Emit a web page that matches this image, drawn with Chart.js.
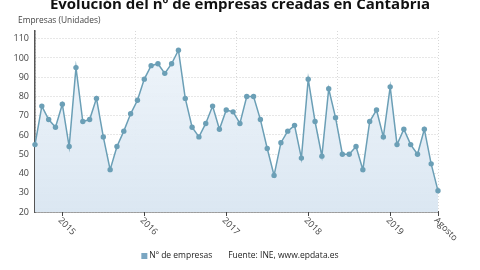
<!DOCTYPE html>
<html>
<head>
<meta charset="utf-8">
<script src="https://cdn.jsdelivr.net/npm/chart.js@4.4.1/dist/chart.umd.min.js"></script>
<style>
  html, body { margin: 0; padding: 0; background: #fff; }
</style>
</head>
<body>
<canvas id="myChart" width="480" height="270"></canvas>
<script>
const title = 'Evolución del nº de empresas creadas en Cantabria';
const yTitle = 'Empresas (Unidades)';
const seriesLabel = 'Nº de empresas';
const source = 'Fuente: INE, www.epdata.es';

// Sep 2014 .. Aug 2019
const months = [
  '2014-09','2014-10','2014-11','2014-12',
  '2015-01','2015-02','2015-03','2015-04','2015-05','2015-06','2015-07','2015-08','2015-09','2015-10','2015-11','2015-12',
  '2016-01','2016-02','2016-03','2016-04','2016-05','2016-06','2016-07','2016-08','2016-09','2016-10','2016-11','2016-12',
  '2017-01','2017-02','2017-03','2017-04','2017-05','2017-06','2017-07','2017-08','2017-09','2017-10','2017-11','2017-12',
  '2018-01','2018-02','2018-03','2018-04','2018-05','2018-06','2018-07','2018-08','2018-09','2018-10','2018-11','2018-12',
  '2019-01','2019-02','2019-03','2019-04','2019-05','2019-06','2019-07','2019-08'
];
const empresas = [
  55, 75, 68, 64,
  76, 54, 95, 67, 68, 79, 59, 42, 54, 62, 71, 78,
  89, 96, 97, 92, 97, 104, 79, 64, 59, 66, 75, 63,
  73, 72, 66, 80, 80, 68, 53, 39, 56, 62, 65, 48,
  89, 67, 49, 84, 69, 50, 50, 54, 42, 67, 73, 59,
  85, 55, 63, 55, 50, 63, 45, 31
];
const tickMonths = ['2015-01', '2016-01', '2017-01', '2018-01', '2019-01', '2019-08'];
const tickTexts = ['2015', '2016', '2017', '2018', '2019', 'Agosto'];
const yTicks = [20, 30, 40, 50, 60, 70, 80, 90, 100, 110];

const lineColor = '#6b9fb6';

const decor = {
  id: 'decor',
  afterDraw(chart) {
    const { ctx, scales: { x }, chartArea } = chart;
    ctx.save();

    // title, cut off at top
    ctx.font = 'bold 15px "Open Sans"';
    ctx.fillStyle = '#111';
    ctx.textAlign = 'center';
    ctx.textBaseline = 'alphabetic';
    ctx.fillText(title, 240, 9);

    // axis title
    ctx.font = '8.4px "Open Sans"';
    ctx.fillStyle = '#444';
    ctx.textAlign = 'left';
    ctx.fillText(yTitle, 18, 23);

    // x ticks + rotated labels
    ctx.strokeStyle = '#444';
    ctx.lineWidth = 1;
    tickMonths.forEach((m, i) => {
      const px = Math.round(x.getPixelForValue(months.indexOf(m))) + 0.5;
      ctx.beginPath();
      ctx.moveTo(px, chartArea.bottom);
      ctx.lineTo(px, chartArea.bottom + 4);
      ctx.stroke();
      ctx.save();
      ctx.translate(px - 3, chartArea.bottom + 7);
      ctx.rotate(Math.PI / 4);
      ctx.font = '9px "Open Sans"';
      ctx.fillStyle = '#444';
      ctx.textAlign = 'left';
      ctx.textBaseline = 'middle';
      ctx.fillText(tickTexts[i], 0, 0);
      ctx.restore();
    });

    // legend + source
    ctx.font = '8.5px "Open Sans"';
    ctx.textBaseline = 'middle';
    const w1 = ctx.measureText(seriesLabel).width;
    const w2 = ctx.measureText(source).width;
    const gap = 16;
    const total = 8 + w1 + gap + w2;
    let lx = 240 - total / 2;
    const ly = 256;
    ctx.fillStyle = '#7aa6c2';
    ctx.fillRect(lx, ly - 3, 6, 6);
    ctx.fillStyle = '#222';
    ctx.fillText(seriesLabel, lx + 8, ly);
    ctx.fillText(source, lx + 8 + w1 + gap, ly);

    ctx.restore();
  }
};

const graph = new Chart(document.getElementById('myChart'), {
  type: 'line',
  data: {
    labels: months,
    datasets: [{
      label: seriesLabel,
      data: empresas,
      borderColor: lineColor,
      borderWidth: 1.5,
      pointRadius: 2.7,
      pointBackgroundColor: lineColor,
      pointBorderWidth: 0,
      tension: 0,
      fill: 'start',
      backgroundColor: (c) => {
        const area = c.chart.chartArea;
        if (!area) return 'rgba(220,232,242,0.8)';
        const g = c.chart.ctx.createLinearGradient(0, area.top, 0, area.bottom);
        g.addColorStop(0, 'rgba(238,244,250,0.9)');
        g.addColorStop(1, 'rgba(219,231,242,1)');
        return g;
      }
    }]
  },
  options: {
    responsive: false,
    animation: false,
    layout: { padding: { left: 0, top: 31, right: 42, bottom: 58 } },
    plugins: { legend: { display: false }, tooltip: { enabled: false } },
    scales: {
      x: {
        type: 'category',
        offset: false,
        ticks: { display: false },
        grid: { display: false },
        border: { display: true, color: '#555', width: 1.5 },
        afterFit: (s) => { s.height = 0; }
      },
      xg: {
        type: 'linear',
        position: 'bottom',
        min: 0,
        max: 59,
        ticks: { display: false, stepSize: 14.75 },
        grid: { color: '#d8d8d8', drawTicks: false },
        border: { display: false, dash: [1, 2] },
        afterFit: (s) => { s.height = 0; }
      },
      y: {
        min: 20,
        max: 114,
        ticks: {
          stepSize: 10,
          padding: 6,
          color: '#444',
          font: { family: 'Open Sans', size: 9 }
        },
        afterBuildTicks: (s) => { s.ticks = yTicks.map(v => ({ value: v })); },
        grid: { color: '#cfcfcf', drawTicks: false },
        border: { display: true, color: '#555', width: 1.5, dash: [1, 2] },
        afterFit: (s) => { s.width = 35; }
      }
    }
  },
  plugins: [decor]
});
</script>
</body>
</html>
